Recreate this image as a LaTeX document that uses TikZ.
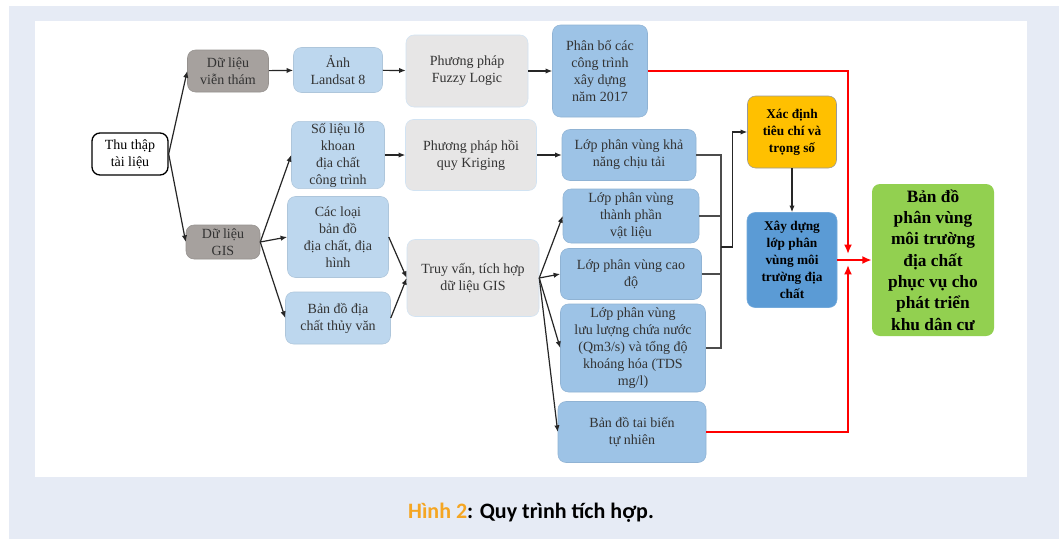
\documentclass[tikz,border=0pt]{standalone}
\usepackage{fontspec}
\setmainfont{Liberation Serif}
\newfontfamily\capfont{Carlito}
\usetikzlibrary{arrows.meta}
\definecolor{pagebg}{RGB}{230,235,245}
\definecolor{srcgray}{RGB}{166,161,158}
\definecolor{datablue}{RGB}{189,215,238}
\definecolor{methodgray}{RGB}{231,230,230}
\definecolor{layerblue}{RGB}{157,195,230}
\definecolor{crityellow}{RGB}{255,192,0}
\definecolor{buildblue}{RGB}{91,155,213}
\definecolor{mapgreen}{RGB}{146,208,80}
\definecolor{capor}{RGB}{245,166,35}

\begin{document}
\begin{tikzpicture}[x=0.75pt, y=-0.75pt,
        box/.style={rectangle, rounded corners=6pt, align=center, inner sep=1pt, text=black!80, font=\fontsize{10.5}{12.8}\selectfont},
        sz/.style 2 args={minimum width=#1*0.75pt, minimum height=#2*0.75pt},
        start/.style={box, draw=black, line width=1pt, fill=white, text=black},
        src/.style={box, fill=srcgray, draw=srcgray!90!black},
        data/.style={box, fill=datablue, draw=datablue!92!black},
        method/.style={box, fill=methodgray, draw=datablue!70},
        layer/.style={box, fill=layerblue, draw=layerblue!92!black},
        keybox/.style={box, text=black, font=\bfseries\fontsize{10}{12.8}\selectfont},
        goal/.style={box, fill=mapgreen, text=black, font=\bfseries\fontsize{13}{16}\selectfont},
        arrow/.style={-{Latex[length=5pt, width=4pt]}, line width=0.9pt, black!85},
        bracket/.style={line width=1.2pt, black!70},
        redarrow/.style={-{Latex[length=7pt, width=6pt]}, line width=2pt, red}
      ]
        \useasboundingbox (0,0) rectangle (1059,539);
        \fill[pagebg] (9,6) rectangle (1059,539);
        \fill[white] (35,21) rectangle (1027,477);

        \node[start, sz={76}{42}] at (130,154) (thu) {Thu thập\\tài liệu};
        \node[src, sz={81}{42}] at (228,71) (vt) {Dữ liệu\\viễn thám};
        \node[src, sz={74}{34}] at (223,242) (gis) {Dữ liệu\\GIS};

        \node[data, sz={89}{45}] at (338,70) (landsat) {Ảnh\\Landsat 8};
        \node[data, sz={93}{66}] at (338,155) (solieu) {Số liệu lỗ\\khoan\\địa chất\\công trình};
        \node[data, sz={101}{81}] at (338,237) (cacloai) {Các loại\\bản đồ\\địa chất, địa\\hình};
        \node[data, sz={105}{52}] at (338,318) (thuyvan) {Bản đồ địa\\chất thủy văn};

        \node[method, sz={122}{72}] at (467,71) (fuzzy) {Phương pháp\\Fuzzy Logic};
        \node[method, sz={131}{71}] at (471,155) (kriging) {Phương pháp hồi\\quy Kriging};
        \node[method, sz={132}{77}] at (473,278) (truyvan) {Truy vấn, tích hợp\\dữ liệu GIS};

        \node[layer, sz={95}{92}] at (600,71) (phanbo) {Phân bố các\\công trình\\xây dựng\\năm 2017};
        \node[layer, sz={134}{51}] at (629,155) (khanang) {Lớp phân vùng khả\\năng chịu tải};
        \node[layer, sz={136}{54}] at (631,216) (thanhphan) {Lớp phân vùng\\thành phần\\vật liệu};
        \node[layer, sz={141}{51}] at (631,274) (caodo) {Lớp phân vùng cao\\độ};
        \node[layer, sz={145}{88}] at (633,348) (luuluong) {Lớp phân vùng\\lưu lượng chứa nước\\(Qm3/s) và tổng độ\\khoáng hóa (TDS\\mg/l)};
        \node[layer, sz={148}{61}] at (632,432) (taibien) {Bản đồ tai biến\\tự nhiên};

        \node[keybox, fill=crityellow, draw=black!40, sz={89}{72}] at (792,132) (xacdinh) {Xác định\\tiêu chí và\\trọng số};
        \node[keybox, fill=buildblue, draw=buildblue!85!white, sz={90}{95}] at (792,260) (xaydung) {Xây dựng\\lớp phân\\vùng môi\\trường địa\\chất};
        \node[goal, sz={122}{152}] at (933,260) (bando) {Bản đồ\\phân vùng\\môi trường\\địa chất\\phục vụ cho\\phát triển\\khu dân cư};

        \node[font=\capfont\bfseries\fontsize{16.5}{18}\selectfont] at (531,513) (caption) {\textcolor{capor}{Hình 2}: Quy trình tích hợp.};

        \draw[arrow] (thu.east) -- (vt.west);
        \draw[arrow] (thu.east) -- (gis.west);
        \draw[arrow] (vt) -- (landsat);
        \draw[arrow] (landsat) -- (fuzzy);
        \draw[arrow] (fuzzy) -- (phanbo);
        \draw[arrow] (gis.east) -- (solieu.west);
        \draw[arrow] (gis.east) -- (cacloai.west);
        \draw[arrow] (gis.east) -- (thuyvan.west);
        \draw[arrow] (solieu) -- (kriging);
        \draw[arrow] (kriging) -- (khanang);
        \draw[arrow] (cacloai.east) -- (truyvan.west);
        \draw[arrow] (thuyvan.east) -- (truyvan.west);
        \draw[arrow] (truyvan.east) -- (thanhphan.west);
        \draw[arrow] (truyvan.east) -- (caodo.west);
        \draw[arrow] (truyvan.east) -- (luuluong.west);
        \draw[arrow] (truyvan.east) -- (taibien.west);

        \draw[bracket] (khanang.east) -- ++(25,0) coordinate (bus) |- (luuluong.east);
        \draw[bracket] (thanhphan.east) -- (thanhphan.east -| bus);
        \draw[bracket] (caodo.east) -- (caodo.east -| bus);
        \coordinate (join) at (bus |- 0,247);
        \draw[arrow] (join) -- ++(11,0) |- (xacdinh.west);
        \draw[arrow] (xacdinh) -- (xaydung);

        \coordinate (rtop) at (848,254);
        \coordinate (rbot) at (848,265);
        \draw[redarrow] (phanbo.east) -| (rtop);
        \draw[redarrow] (taibien.east) -| (rbot);
        \draw[redarrow] (xaydung.east) -- (bando.west);
      \end{tikzpicture}
\end{document}
